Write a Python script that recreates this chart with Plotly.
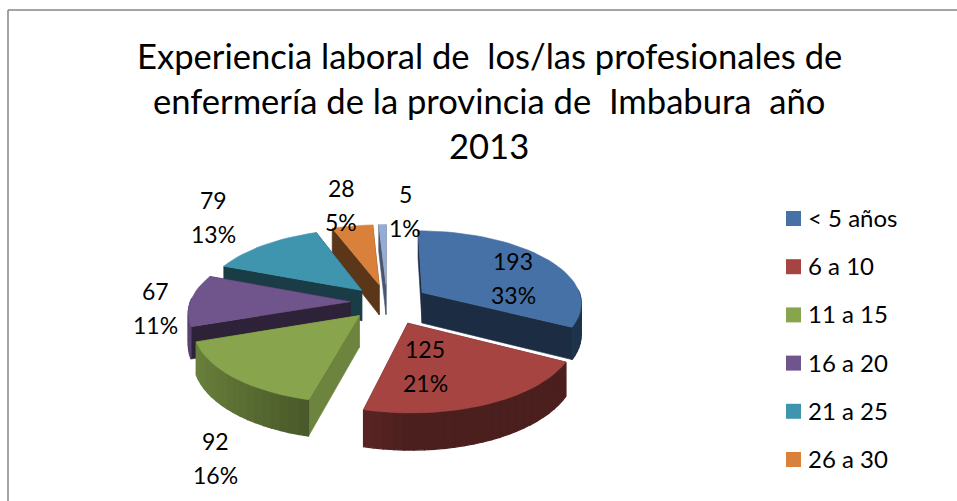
"""
Experiencia laboral: exploded 3D-look pie built from filled scatter polygons.
"""

import math
import plotly.graph_objects as go

# Data
categories = ["< 5 años", "6 a 10", "11 a 15", "16 a 20", "21 a 25", "26 a 30", "> 30"]
values = [193, 125, 92, 67, 79, 28, 5]
legend_labels = categories[:6]  # the last entry is cut off in the picture

title_lines = [
    "Experiencia laboral de \u00a0los/las profesionales de",
    "enfermería de la provincia de \u00a0Imbabura \u00a0año",
    "2013",
]

# Style
top_colors = ["#4571A7", "#A64442", "#88A54D", "#70558C", "#4095AE", "#D9813B", "#95ADD6"]
radial_shade = [0.40, 0.45, 0.80, 0.40, 0.40, 0.42, 0.50]
explode = [0.26, 0.31, 0.25, 0.23, 0.23, 0.25, 0.25]
draw_order = [6, 5, 4, 3, 0, 2, 1]
label_pos = [(513, 261), (425, 349), (215, 441), (155, 291), (213, 200), (341, 188), (405, 194)]
FONT = "Lato, sans-serif"

# Projection of the pie onto the pixel-sized axes
CX, CY = 387, 302
A, B = 160, 72
K = 0.13
DEPTH = 31


def project(px, py, h=0):
    s = 1 / (1 - K * py)
    return CX + A * px * s, CY + B * py * s + h * s


def shade(hex_color, f):
    c = hex_color.lstrip("#")
    r, g, b = [int(c[i:i + 2], 16) * f for i in (0, 2, 4)]
    return f"rgb({r:.0f},{g:.0f},{b:.0f})"


def polygon(points, color, width=0.6):
    xs = [p[0] for p in points] + [points[0][0]]
    ys = [p[1] for p in points] + [points[0][1]]
    return go.Scatter(x=xs, y=ys, mode="lines", fill="toself", fillcolor=color,
                      line=dict(color=color, width=width), hoverinfo="skip", showlegend=False)


total = sum(values)
starts = []
angle = 0
for v in values:
    starts.append(angle)
    angle += 360 * v / total

fig = go.Figure()

for i in draw_order:
    t0 = starts[i]
    sweep = 360 * values[i] / total
    mid = math.radians(t0 + sweep / 2)
    ox, oy = explode[i] * math.sin(mid), -explode[i] * math.cos(mid)
    steps = max(2, int(sweep / 3))
    thetas = [math.radians(t0 + sweep * n / steps) for n in range(steps + 1)]
    rim = [(ox + math.sin(t), oy - math.cos(t)) for t in thetas]
    apex = (ox, oy)
    walls = []
    # outer wall, lit from the left
    for n in range(steps):
        mid_t = (thetas[n] + thetas[n + 1]) / 2
        if math.cos(mid_t) > 0.05:
            continue
        p, q = rim[n], rim[n + 1]
        f = 0.45 + 0.35 * max(0, -math.sin(mid_t))
        quad = [project(*p), project(*q), project(*q, DEPTH), project(*p, DEPTH)]
        walls.append(((p[1] + q[1]) / 2, quad, shade(top_colors[i], f), 1.2))
    # the two cut faces
    for p in (rim[0], rim[-1]):
        quad = [project(*apex), project(*p), project(*p, DEPTH), project(*apex, DEPTH)]
        walls.append(((p[1] + oy) / 2, quad, shade(top_colors[i], radial_shade[i]), 0.6))
    for _, quad, color, width in sorted(walls, key=lambda w: w[0]):
        fig.add_trace(polygon(quad, color, width))
    fig.add_trace(polygon([project(*apex)] + [project(*p) for p in rim], top_colors[i]))

# Legend drawn in place, the spacing of the original is wider than a plotly legend allows
LEGEND_X, LEGEND_TOP, LEGEND_STEP = 793.5, 218.5, 48.2
for i, name in enumerate(legend_labels):
    fig.add_trace(go.Scatter(
        x=[LEGEND_X], y=[LEGEND_TOP + i * LEGEND_STEP], mode="markers",
        marker=dict(symbol="square", size=15, color=top_colors[i]),
        hoverinfo="skip", showlegend=False))
    fig.add_annotation(x=806, y=LEGEND_TOP - 1 + i * LEGEND_STEP, text=name, showarrow=False,
                       xanchor="left", yanchor="middle", font=dict(size=24))

# Data labels: count above share
for v, (lx, ly) in zip(values, label_pos):
    fig.add_annotation(x=lx, y=ly, text=str(v), showarrow=False, font=dict(size=23))
    fig.add_annotation(x=lx, y=ly + 34, text=f"{round(100 * v / total)}%", showarrow=False,
                       font=dict(size=23))

for n, line in enumerate(title_lines):
    fig.add_annotation(x=489, y=55 + n * 45, text=line, showarrow=False, font=dict(size=34.6))

# Chart frame, cut off at the right and bottom of the picture
fig.add_shape(type="line", x0=8, y0=10, x1=8, y1=501, line=dict(color="#868686", width=1.5))
fig.add_shape(type="line", x0=8, y0=10, x1=957, y1=10, line=dict(color="#868686", width=1.5))

fig.update_layout(
    width=957, height=501,
    margin=dict(l=0, r=0, t=0, b=0),
    paper_bgcolor="white", plot_bgcolor="white",
    font=dict(family=FONT, color="black"),
    showlegend=False,
    xaxis=dict(range=[0, 957], visible=False, fixedrange=True),
    yaxis=dict(range=[501, 0], visible=False, fixedrange=True),
)

# page margin off, so the figure sits at the window corner
fig.write_html("out.html", config={"displayModeBar": False},
               post_script="document.body.style.margin = '0';")
